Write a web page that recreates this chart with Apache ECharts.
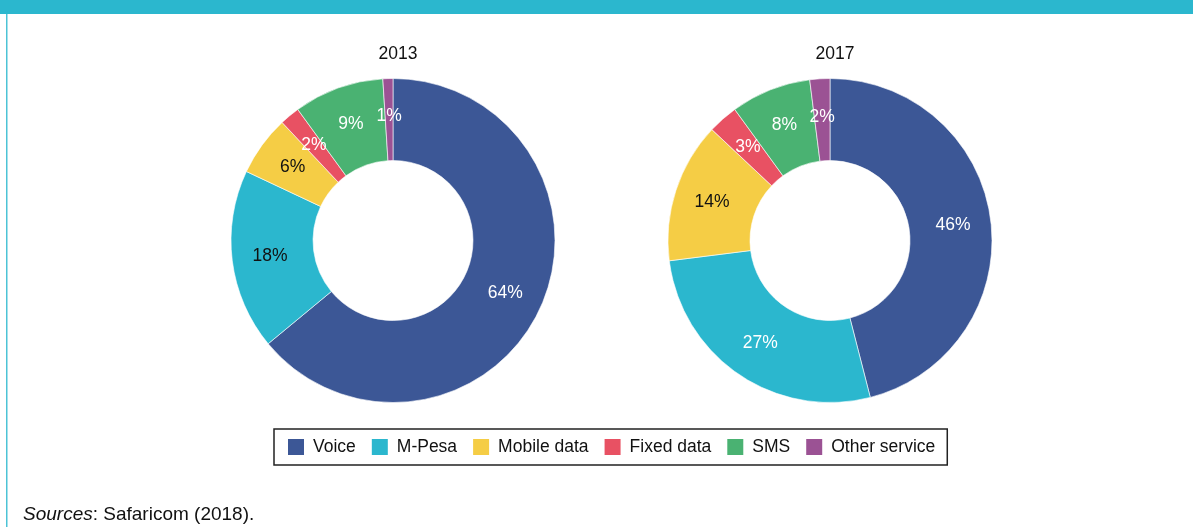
<!DOCTYPE html>
<html>
<head>
<meta charset="utf-8">
<script src="https://cdn.jsdelivr.net/npm/echarts@6/dist/echarts.min.js"></script>
<style>
  html, body { margin: 0; padding: 0; background: #fff; }
  #chart { width: 1193px; height: 527px; }
</style>
</head>
<body>
<div id="chart"></div>
<script>
// services, in drawing order (clockwise from 12 o'clock)
const services = ['Voice', 'M-Pesa', 'Mobile data', 'Fixed data', 'SMS', 'Other service'];
const share2013 = [64, 18, 6, 2, 9, 1];
const share2017 = [46, 27, 14, 3, 8, 2];
const years = ['2013', '2017'];

const colors = ['#3c5796', '#2bb7ce', '#f5cd45', '#e85163', '#4ab272', '#9b5294'];
const labelColors2013 = ['#fff', '#111', '#111', '#fff', '#fff', '#fff'];
const labelColors2017 = ['#fff', '#fff', '#111', '#fff', '#fff', '#fff'];

const font = '"Liberation Sans", Arial, sans-serif';

function buildData(values, labelColors){
    return services.map((name, i) => ({
        name: name,
        value: values[i],
        itemStyle: { color: colors[i] },
        label: { color: labelColors[i] }
    }));
}

function donut(year, values, labelColors, cx){
    return {
        name: year,
        type: 'pie',
        center: [cx, 240.5],
        radius: [80, 162],
        startAngle: 90,
        clockwise: true,
        avoidLabelOverlap: false,
        silent: true,
        itemStyle: { borderColor: '#fff', borderWidth: 0.6 },
        label: {
            show: true,
            position: 'inside',
            formatter: '{c}%',
            fontFamily: font,
            fontSize: 17.5
        },
        labelLine: { show: false },
        data: buildData(values, labelColors)
    };
}

let myChart = echarts.init(document.getElementById('chart'));

const titleStyle = { fontFamily: font, fontSize: 17.5, fontWeight: 'normal', color: '#111' };

option = {
    animation: false,
    color: colors,
    title: [
        { text: years[0], left: 393, top: 40, textAlign: 'center', textStyle: titleStyle },
        { text: years[1], left: 830, top: 40, textAlign: 'center', textStyle: titleStyle },
        {
            text: '{i|Sources}: Safaricom (2018).',
            left: 18, top: 500,
            textStyle: {
                fontFamily: font, fontSize: 19, fontWeight: 'normal', color: '#111',
                rich: { i: { fontFamily: font, fontSize: 19, fontStyle: 'italic', color: '#111' } }
            }
        }
    ],
    legend: {
        data: services,
        left: 274,
        top: 429,
        icon: 'rect',
        itemWidth: 18,
        itemHeight: 18,
        itemGap: 14,
        padding: [8, 12],
        borderColor: '#222',
        borderWidth: 1.5,
        selectedMode: false,
        textStyle: { fontFamily: font, fontSize: 17.5, color: '#111', padding: [0, 0, 0, 3] }
    },
    graphic: [
        { type: 'rect', shape: { x: 0, y: 0, width: 1193, height: 14 }, style: { fill: '#2bb7ce' }, silent: true },
        { type: 'rect', shape: { x: 6, y: 14, width: 1.5, height: 513 }, style: { fill: '#4cc3d6' }, silent: true }
    ],
    series: [
        donut(years[0], share2013, labelColors2013, 393),
        donut(years[1], share2017, labelColors2017, 830)
    ]
};
myChart.setOption(option);
</script>
</body>
</html>
